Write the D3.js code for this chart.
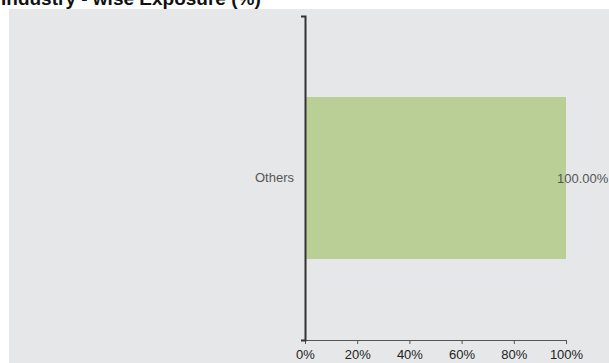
<!DOCTYPE html>
<html><head><meta charset="utf-8">
<script src="https://cdn.jsdelivr.net/npm/d3@7"></script>
<style>body{margin:0;background:#fff;font-family:Arial,"Liberation Sans",sans-serif}</style>
</head><body>
<svg id="c" width="609" height="363"></svg>
<script>
const categories = ["Others"];
const values = [100];
const valueLabels = ["100.00%"];
const xTicks = [0, 20, 40, 60, 80, 100];
const title = "Industry - wise Exposure (%)";

(function () {
const svg = d3.select("#c");
const FF = "Arial, 'Liberation Sans', sans-serif";
svg.append("rect").attr("x", 9).attr("y", 9).attr("width", 600).attr("height", 354).attr("fill", "#e6e7e9");
svg.append("text").attr("x", 1).attr("y", 5).attr("font-size", 19).attr("font-weight", "bold")
  .attr("font-family", FF).attr("fill", "#111").text(title);

const mLeft = 305, mRight = 566, mTop = 16, mBottom = 340;
const x = d3.scaleLinear().domain([0, 100]).range([mLeft, mRight]);
const y = d3.scaleBand().domain(categories).range([mTop, mBottom]).paddingInner(0.5).paddingOuter(0.25);

svg.selectAll("rect.bar").data(values).enter().append("rect").attr("class", "bar")
  .attr("x", x(0)).attr("y", (d, i) => y(categories[i]))
  .attr("width", d => x(d) - x(0)).attr("height", y.bandwidth()).attr("fill", "#b9cf96");

const xa = svg.append("g").attr("transform", `translate(0,${mBottom})`)
  .call(d3.axisBottom(x).tickValues(xTicks).tickFormat(d => d + "%").tickSize(4).tickSizeOuter(0));
xa.select(".domain").attr("stroke", "#555");
xa.selectAll(".tick line").attr("stroke", "#555");
xa.selectAll("text").attr("font-size", 13).attr("fill", "#222").attr("font-family", FF).attr("dy", "0.95em");

const ya = svg.append("g").attr("transform", `translate(${mLeft},0)`)
  .call(d3.axisLeft(y).tickSize(0).tickSizeOuter(4).tickPadding(11));
ya.select(".domain").attr("stroke", "#333").attr("stroke-width", 2);
ya.selectAll("text").attr("font-size", 13).attr("fill", "#555").attr("font-family", FF);

svg.selectAll("text.val").data(values).enter().append("text").attr("class", "val")
  .attr("x", d => x(d) - 9).attr("y", (d, i) => y(categories[i]) + y.bandwidth() / 2)
  .attr("dy", "0.35em").attr("font-size", 13).attr("font-family", FF).attr("fill", "#555").text((d, i) => valueLabels[i]);
})();
</script>
</body></html>
